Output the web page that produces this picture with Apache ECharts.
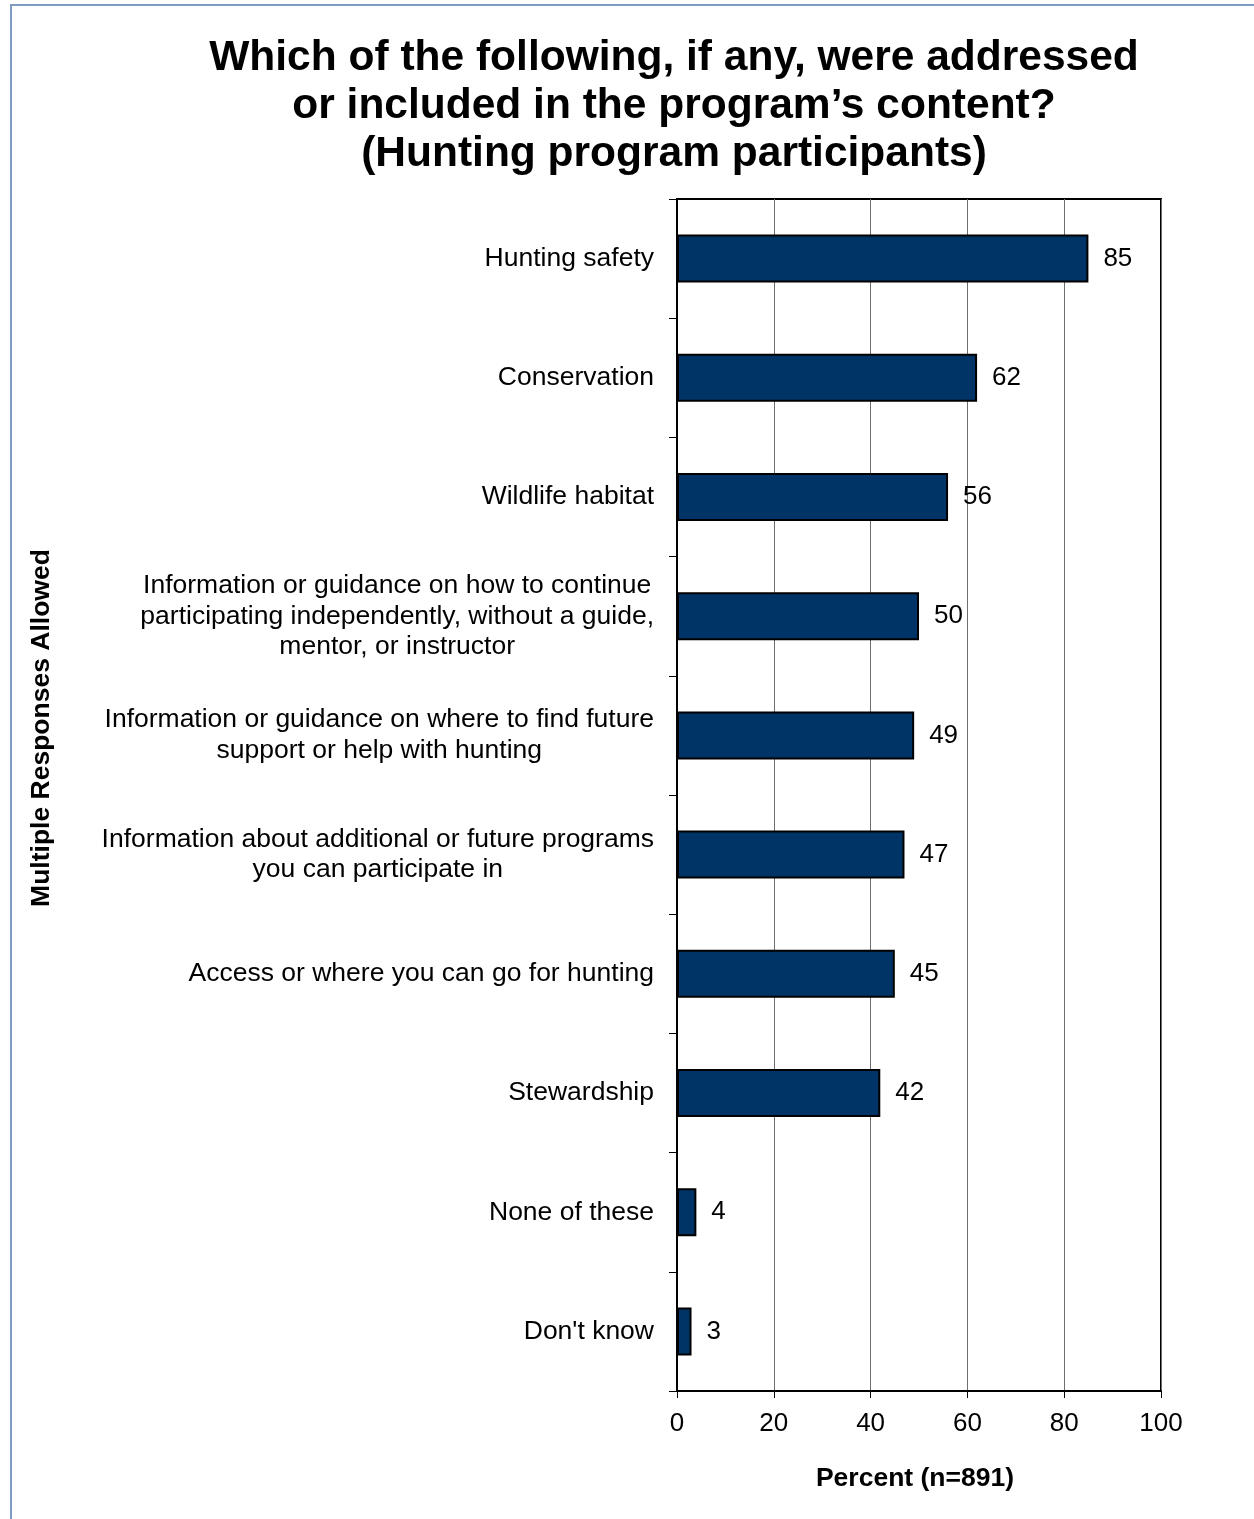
<!DOCTYPE html>
<html>
<head>
<meta charset="utf-8">
<script src="https://cdn.jsdelivr.net/npm/echarts@6/dist/echarts.min.js"></script>
<style>
  html, body { margin: 0; padding: 0; background: #ffffff; }
  #chart { width: 1254px; height: 1519px; }
</style>
</head>
<body>
<div id="chart"></div>
<script>
// Survey topics, listed top to bottom
const categories = [
  'Hunting safety',
  'Conservation',
  'Wildlife habitat',
  'Information or guidance on how to continue\nparticipating independently, without a guide,\nmentor, or instructor',
  'Information or guidance on where to find future\nsupport or help with hunting',
  'Information about additional or future programs\nyou can participate in',
  'Access or where you can go for hunting',
  'Stewardship',
  'None of these',
  "Don't know"
];
// Percent of respondents selecting each topic
const percents = [85, 62, 56, 50, 49, 47, 45, 42, 4, 3];
// Percent axis tick values
const xTicks = [0, 20, 40, 60, 80, 100];

const titleLines = [
  'Which of the following, if any, were addressed',
  'or included in the program\u2019s content?',
  '(Hunting program participants)'
];

const FONT = '"Liberation Sans", Arial, sans-serif';

const chart = echarts.init(document.getElementById('chart'), null, { renderer: 'canvas' });

chart.setOption({
  animation: false,
  backgroundColor: '#ffffff',
  textStyle: { fontFamily: FONT, color: '#000' },
  graphic: [
    {
      type: 'rect',
      shape: { x: 11, y: 5, width: 1300, height: 1600 },
      style: { fill: 'none', stroke: '#7f9cc0', lineWidth: 2 },
      silent: true
    },
    {
      type: 'text',
      x: 674, y: 34,
      style: {
        text: titleLines.join('\n'),
        font: 'bold 42.5px ' + FONT,
        fill: '#000',
        align: 'center',
        verticalAlign: 'top',
        lineHeight: 48
      }
    },
    {
      type: 'text',
      x: 42, y: 728,
      rotation: Math.PI / 2,
      style: {
        text: 'Multiple Responses Allowed',
        font: 'bold 26.5px ' + FONT,
        fill: '#000',
        align: 'center',
        verticalAlign: 'middle'
      }
    }
  ],
  grid: {
    left: 677, top: 199, width: 484, height: 1192,
    show: true, borderColor: '#000', borderWidth: 2,
    containLabel: false
  },
  xAxis: {
    type: 'value',
    min: xTicks[0], max: xTicks[xTicks.length - 1], interval: 20,
    position: 'bottom',
    name: 'Percent (n=891)',
    nameLocation: 'middle',
    nameGap: 74,
    nameTextStyle: { fontFamily: FONT, fontWeight: 'bold', fontSize: 26.5, color: '#000', padding: [0, 8, 0, 0] },
    axisLine: { show: true, lineStyle: { color: '#000', width: 2 } },
    axisTick: { show: true, inside: false, length: 7, lineStyle: { color: '#000', width: 1 } },
    axisLabel: { fontFamily: FONT, fontSize: 26, color: '#000', margin: 20 },
    splitLine: { show: true, lineStyle: { color: '#6e6e6e', width: 1 } }
  },
  yAxis: {
    type: 'category',
    data: categories,
    inverse: true,
    axisLine: { show: true, lineStyle: { color: '#000', width: 2 } },
    axisTick: { show: true, inside: false, length: 8, alignWithLabel: false, lineStyle: { color: '#000', width: 1 } },
    axisLabel: {
      margin: 23,
      formatter: function (v) {
        return v.split('\n').map(function (l) { return '{c|' + l + '}'; }).join('\n');
      },
      rich: {
        c: { fontFamily: FONT, fontSize: 26.5, color: '#000', align: 'center', lineHeight: 30.5 }
      }
    },
    splitLine: { show: false }
  },
  series: [
    {
      type: 'bar',
      data: percents,
      barWidth: 48,
      itemStyle: { color: '#003466', borderColor: '#000', borderWidth: 2 },
      label: {
        show: true,
        position: 'right',
        distance: 15,
        fontFamily: FONT,
        fontSize: 26,
        color: '#000'
      }
    }
  ]
});
</script>
</body>
</html>
